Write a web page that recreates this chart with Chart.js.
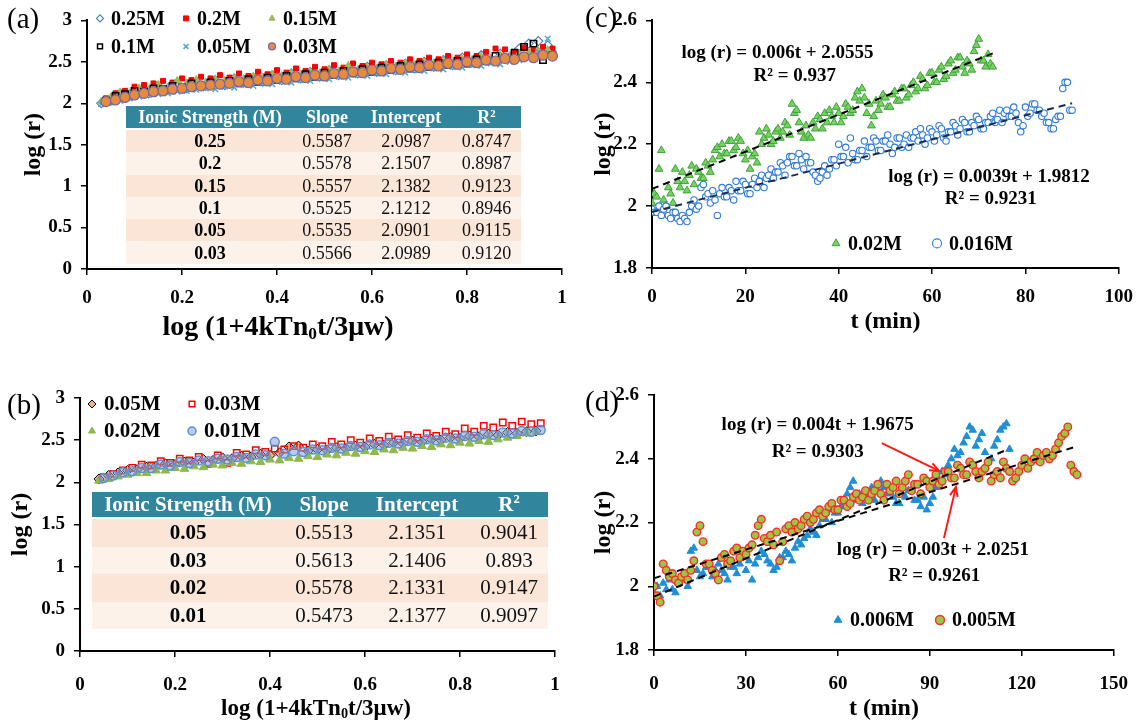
<!DOCTYPE html>
<html>
<head>
<meta charset="utf-8">
<script src="https://cdn.jsdelivr.net/npm/chart.js@4.4.1/dist/chart.umd.min.js"></script>
<style>
  body { margin: 0; background: #fff; width: 1145px; height: 723px; position: relative; overflow: hidden;
         font-family: "Liberation Serif", "Times New Roman", serif; }
  canvas { position: absolute; }
  .tag { position: absolute; font-size: 29px; line-height: 1; }
  .xt { position: absolute; font-weight: bold; white-space: nowrap; transform: translate(-50%, -50%); line-height: 1; }
  .xt sub { font-size: 0.62em; vertical-align: -0.25em; }
  table.fit { position: absolute; border-collapse: collapse; table-layout: fixed; color: #111; }
  table.fit th { background: #31859C; color: #fff; font-weight: bold; padding: 0; }
  table.fit td { padding: 0; text-align: center; }
  table.fit td:first-child { font-weight: bold; color: #000; }
  table.fit tr:nth-child(even) td { background: #FBE5D6; }
  table.fit tr:nth-child(odd) td { background: #FDF2EA; }
  #tabA { left: 126px; top: 106px; width: 395px; font-size: 18px; }
  #tabA th { height: 22px; line-height: 22px; }
  #tabA td { height: 22.3px; line-height: 22px; }
  #tabB { left: 92px; top: 492px; width: 456px; font-size: 21px; }
  #tabB th { height: 25px; line-height: 25px; }
  #tabB td { height: 27.5px; line-height: 27px; }
  table.fit tr:nth-child(2) td { border-top: 2px solid #fff; }
</style>
</head>
<body>
<canvas id="chartA" width="580" height="340" style="left:0;top:0"></canvas>
<canvas id="chartB" width="580" height="363" style="left:0;top:360px"></canvas>
<canvas id="chartC" width="565" height="340" style="left:580px;top:0"></canvas>
<canvas id="chartD" width="565" height="363" style="left:580px;top:360px"></canvas>

<div class="tag" style="left:7px;top:4px">(a)</div>
<div class="tag" style="left:7px;top:390px">(b)</div>
<div class="tag" style="left:585px;top:3px">(c)</div>
<div class="tag" style="left:585px;top:387px">(d)</div>

<div class="xt" style="left:278px;top:327px;font-size:28px">log (1+4kTn<sub>0</sub>t/3μw)</div>
<div class="xt" style="left:316px;top:708px;font-size:23px">log (1+4kTn<sub>0</sub>t/3μw)</div>

<table class="fit" id="tabA">
  <colgroup><col style="width:168px"><col style="width:66px"><col style="width:92px"><col style="width:69px"></colgroup>
  <tbody id="tabAbody"></tbody>
</table>
<table class="fit" id="tabB">
  <colgroup><col style="width:192px"><col style="width:80px"><col style="width:106px"><col style="width:78px"></colgroup>
  <tbody id="tabBbody"></tbody>
</table>

<script>
// ---------- panel (a): log(r) vs log(1+4kTn0t/3uw) ----------
const A_X1 = [0.03,0.05,0.07,0.09,0.11,0.13,0.15,0.17,0.19,0.21,0.23,0.25,0.27,0.29,0.31,0.33,0.35,0.37,0.39,0.41,
              0.43,0.45,0.47,0.49,0.51,0.53,0.55,0.57,0.59,0.61,0.63,0.65,0.67,0.69,0.71,0.73,0.75,0.77,0.79,0.81,
              0.83,0.85,0.87,0.89,0.91,0.93,0.95,0.97];
const A_X2 = [0.04,0.06,0.08,0.10,0.12,0.14,0.16,0.18,0.20,0.22,0.24,0.26,0.28,0.30,0.32,0.34,0.36,0.38,0.40,0.42,
              0.44,0.46,0.48,0.50,0.52,0.54,0.56,0.58,0.60,0.62,0.64,0.66,0.68,0.70,0.72,0.74,0.76,0.78,0.80,0.82,
              0.84,0.86,0.88,0.90,0.92,0.94,0.96,0.98];
const A_025 = [2.00,2.03,2.12,2.09,2.16,2.12,2.21,2.16,2.24,2.18,2.26,2.21,2.28,2.22,2.30,2.25,2.31,2.26,2.34,2.28,
               2.36,2.30,2.38,2.32,2.40,2.34,2.42,2.36,2.44,2.38,2.46,2.40,2.48,2.42,2.50,2.44,2.52,2.46,2.55,2.49,
               2.58,2.52,2.60,2.55,2.66,2.72,2.75,2.70];
const A_02 = [2.06,2.12,2.15,2.20,2.22,2.24,2.27,2.25,2.30,2.28,2.32,2.30,2.34,2.31,2.36,2.33,2.38,2.35,2.40,2.37,
              2.42,2.39,2.44,2.41,2.46,2.43,2.48,2.45,2.49,2.47,2.51,2.49,2.53,2.51,2.55,2.53,2.57,2.55,2.59,2.57,
              2.62,2.66,2.65,2.62,2.67,2.64,2.68,2.66];
const A_015 = [2.02,2.07,2.13,2.12,2.18,2.16,2.22,2.19,2.27,2.24,2.28,2.25,2.28,2.27,2.30,2.29,2.32,2.31,2.34,2.33,
               2.36,2.34,2.38,2.36,2.40,2.38,2.45,2.40,2.43,2.42,2.46,2.44,2.48,2.46,2.49,2.48,2.51,2.50,2.53,2.52,
               2.56,2.54,2.58,2.57,2.60,2.61,2.63,2.64];
const A_01 = [2.03,2.09,2.11,2.15,2.14,2.18,2.17,2.21,2.19,2.24,2.21,2.25,2.23,2.27,2.24,2.29,2.26,2.31,2.28,2.33,
              2.30,2.35,2.32,2.37,2.34,2.39,2.36,2.41,2.38,2.43,2.40,2.45,2.42,2.47,2.44,2.49,2.46,2.51,2.48,2.53,
              2.51,2.57,2.55,2.61,2.68,2.72,2.52,2.58];
const A_005 = [1.99,2.01,2.03,2.06,2.08,2.10,2.11,2.12,2.14,2.15,2.16,2.18,2.17,2.20,2.19,2.22,2.21,2.24,2.23,2.26,
               2.25,2.28,2.27,2.30,2.29,2.32,2.31,2.34,2.33,2.36,2.35,2.38,2.37,2.40,2.39,2.42,2.41,2.44,2.43,2.46,
               2.45,2.48,2.47,2.50,2.52,2.55,2.62,2.78];
const A_003 = [2.02,2.04,2.07,2.10,2.12,2.14,2.15,2.17,2.18,2.20,2.21,2.22,2.23,2.24,2.26,2.25,2.28,2.27,2.30,2.29,
               2.32,2.31,2.34,2.33,2.36,2.35,2.38,2.37,2.40,2.39,2.42,2.41,2.44,2.43,2.46,2.45,2.48,2.47,2.50,2.49,
               2.52,2.51,2.54,2.53,2.56,2.55,2.58,2.57];
const A_TABLE = [
  ['0.25', '0.5587', '2.0987', '0.8747'],
  ['0.2',  '0.5578', '2.1507', '0.8987'],
  ['0.15', '0.5557', '2.1382', '0.9123'],
  ['0.1',  '0.5525', '2.1212', '0.8946'],
  ['0.05', '0.5535', '2.0901', '0.9115'],
  ['0.03', '0.5566', '2.0989', '0.9120']
];

// ---------- panel (b) ----------
const B_X1 = [0.04,0.06,0.08,0.10,0.12,0.14,0.16,0.18,0.20,0.22,0.24,0.26,0.28,0.30,0.32,0.34,0.36,0.38,0.40,0.42,
              0.44,0.46,0.48,0.50,0.52,0.54,0.56,0.58,0.60,0.62,0.64,0.66,0.68,0.70,0.72,0.74,0.76,0.78,0.80,0.82,
              0.84,0.86,0.88,0.90,0.92,0.94,0.96];
const B_X2 = [0.05,0.07,0.09,0.11,0.13,0.15,0.17,0.19,0.21,0.23,0.25,0.27,0.29,0.31,0.33,0.35,0.37,0.39,0.41,0.43,
              0.45,0.47,0.49,0.51,0.53,0.55,0.57,0.59,0.61,0.63,0.65,0.67,0.69,0.71,0.73,0.75,0.77,0.79,0.81,0.83,
              0.85,0.87,0.89,0.91,0.93,0.95,0.97];
const B_005 = [2.04,2.08,2.11,2.14,2.15,2.18,2.19,2.22,2.21,2.24,2.23,2.27,2.26,2.29,2.28,2.31,2.30,2.33,2.32,2.35,
               2.42,2.43,2.37,2.39,2.38,2.41,2.40,2.43,2.42,2.45,2.44,2.47,2.46,2.49,2.48,2.51,2.50,2.53,2.52,2.55,
               2.54,2.57,2.56,2.59,2.58,2.60,2.61];
const B_003 = [2.06,2.10,2.14,2.17,2.21,2.20,2.25,2.23,2.28,2.26,2.30,2.22,2.32,2.23,2.35,2.33,2.38,2.36,2.40,2.39,
               2.43,2.41,2.45,2.43,2.48,2.45,2.50,2.47,2.52,2.49,2.54,2.51,2.56,2.53,2.58,2.55,2.60,2.57,2.64,2.60,
               2.67,2.65,2.71,2.67,2.72,2.69,2.70];
const B_002 = [2.02,2.04,2.07,2.09,2.11,2.11,2.14,2.14,2.17,2.16,2.19,2.18,2.21,2.20,2.23,2.22,2.25,2.24,2.27,2.26,
               2.29,2.28,2.31,2.30,2.33,2.32,2.35,2.34,2.37,2.36,2.39,2.38,2.41,2.40,2.43,2.42,2.45,2.44,2.47,2.46,
               2.49,2.48,2.51,2.53,2.55,2.58,2.60];
const B_001 = [2.05,2.08,2.12,2.13,2.17,2.17,2.21,2.20,2.24,2.23,2.26,2.25,2.28,2.27,2.30,2.29,2.33,2.32,2.48,2.34,
               2.37,2.36,2.39,2.38,2.41,2.40,2.43,2.42,2.45,2.44,2.47,2.46,2.49,2.48,2.51,2.50,2.53,2.52,2.55,2.54,
               2.57,2.56,2.59,2.58,2.61,2.60,2.62];
const B_TABLE = [
  ['0.05', '0.5513', '2.1351', '0.9041'],
  ['0.03', '0.5613', '2.1406', '0.893'],
  ['0.02', '0.5578', '2.1331', '0.9147'],
  ['0.01', '0.5473', '2.1377', '0.9097']
];

// ---------- panel (c): log(r) vs t, readings every half minute ----------
const C_T = [0,0.5,1,1.5,2,2.5,3,3.5,4,4.5,5,5.5,6,6.5,7,7.5,8,8.5,9,9.5,10,10.5,11,11.5,12,12.5,13,13.5,14,14.5,
             15,15.5,16,16.5,17,17.5,18,18.5,19,19.5,20,20.5,21,21.5,22,22.5,23,23.5,24,24.5,25,25.5,26,26.5,27,27.5,
             28,28.5,29,29.5,30,30.5,31,31.5,32,32.5,33,33.5,34,34.5,35,35.5,36,36.5,37,37.5,38,38.5,39,39.5,40,40.5,
             41,41.5,42,42.5,43,43.5,44,44.5,45,45.5,46,46.5,47,47.5,48,48.5,49,49.5,50,50.5,51,51.5,52,52.5,53,53.5,
             54,54.5,55,55.5,56,56.5,57,57.5,58,58.5,59,59.5,60,60.5,61,61.5,62,62.5,63,63.5,64,64.5,65,65.5,66,66.5,
             67,67.5,68,68.5,69,69.5,70,70.5,71,71.5,72,72.5,73,73.5,74,74.5,75,75.5,76,76.5,77,77.5,78,78.5,79,79.5,
             80,80.5,81,81.5,82,82.5,83,83.5,84,84.5,85,85.5,86,86.5,87,87.5,88,88.5,89,89.5,90];
const C_002 = [2.01,2.04,2.03,2.12,2.18,2.02,2.00,2.06,2.04,2.01,2.12,2.08,2.06,2.11,2.08,2.05,2.10,2.13,2.07,2.12,
               2.11,2.09,2.09,2.14,2.13,2.11,2.15,2.18,2.19,2.16,2.20,2.17,2.17,2.21,2.21,2.18,2.19,2.22,2.21,2.17,
               2.15,2.18,2.12,2.16,2.17,2.14,2.24,2.20,2.22,2.25,2.23,2.20,2.21,2.24,2.25,2.22,2.24,2.27,2.26,2.23,
               2.33,2.30,2.31,2.27,2.24,2.22,2.26,2.23,2.22,2.27,2.25,2.29,2.28,2.25,2.30,2.27,2.31,2.29,2.27,2.32,
               2.30,2.27,2.29,2.33,2.32,2.30,2.31,2.35,2.37,2.34,2.38,2.35,2.30,2.33,2.26,2.29,2.34,2.31,2.33,2.36,
               2.35,2.32,2.32,2.36,2.37,2.34,2.34,2.38,2.38,2.35,2.36,2.39,2.40,2.37,2.38,2.42,2.41,2.38,2.39,2.43,
               2.43,2.40,2.40,2.44,2.45,2.41,2.42,2.46,2.47,2.43,2.44,2.48,2.48,2.45,2.43,2.47,2.46,2.44,2.50,2.52,
               2.54,2.47,2.47,2.45,2.49,2.46,2.45];
const C_0016 = [1.99,1.98,1.98,2.00,1.97,1.99,2.00,1.97,1.96,1.98,1.98,1.96,1.95,1.97,1.96,1.95,1.98,2.00,2.02,1.99,
                2.00,2.06,2.07,2.03,2.04,2.01,2.05,2.02,1.97,2.04,2.06,2.03,2.03,2.06,2.05,2.02,2.08,2.05,2.05,2.08,
                2.07,2.04,2.04,2.07,2.09,2.06,2.08,2.10,2.06,2.09,2.10,2.12,2.09,2.11,2.11,2.14,2.13,2.10,2.14,2.16,
                2.16,2.13,2.13,2.17,2.15,2.12,2.16,2.14,2.14,2.11,2.10,2.08,2.09,2.11,2.13,2.10,2.12,2.15,2.15,2.13,
                2.20,2.16,2.16,2.19,2.14,2.22,2.17,2.15,2.15,2.18,2.18,2.21,2.16,2.19,2.19,2.22,2.21,2.18,2.18,2.21,
                2.21,2.23,2.20,2.17,2.19,2.22,2.22,2.19,2.20,2.23,2.19,2.22,2.22,2.24,2.21,2.25,2.23,2.20,2.22,2.25,
                2.24,2.21,2.23,2.26,2.25,2.22,2.21,2.24,2.24,2.27,2.26,2.23,2.25,2.28,2.27,2.24,2.24,2.27,2.26,2.29,
                2.28,2.25,2.25,2.27,2.27,2.29,2.30,2.27,2.28,2.31,2.27,2.30,2.31,2.29,2.29,2.32,2.30,2.27,2.24,2.26,
                2.32,2.29,2.30,2.33,2.33,2.31,2.31,2.29,2.30,2.27,2.27,2.25,2.25,2.28,2.29,2.29,2.38,2.40,2.40,2.31,
                2.31];
// fitted lines drawn in the figure: [t, log r] at both ends
const C_FIT1 = [[0, 2.0555], [73, 2.4935]];
const C_FIT2 = [[0, 1.9812], [90, 2.3322]];

// ---------- panel (d): readings every minute ----------
const D_T = [0,1,2,3,4,5,6,7,8,9,10,11,12,13,14,15,16,17,18,19,20,21,22,23,24,25,26,27,28,29,30,31,32,33,34,35,36,37,
             38,39,40,41,42,43,44,45,46,47,48,49,50,51,52,53,54,55,56,57,58,59,60,61,62,63,64,65,66,67,68,69,70,71,72,
             73,74,75,76,77,78,79,80,81,82,83,84,85,86,87,88,89,90,91,92,93,94,95,96,97,98,99,100,101,102,103,104,105,
             106,107,108,109,110,111,112,113,114,115,116,117,118,119,120,121,122,123,124,125,126,127,128,129,130,131,
             132,133,134,135,136,137,138];
const D_0006 = [1.98,2.00,1.97,2.01,1.99,2.02,1.99,1.98,2.01,2.03,2.02,2.00,2.11,2.12,2.05,2.03,2.04,2.06,2.06,2.03,
                2.05,2.07,2.05,2.04,2.02,2.06,2.06,2.04,2.07,2.09,2.05,2.08,2.02,2.07,2.09,2.11,2.10,2.08,2.07,2.05,
                2.06,2.09,2.09,2.11,2.10,2.08,2.12,2.14,2.13,2.15,2.16,2.18,2.17,2.16,2.19,2.21,2.21,2.24,2.20,2.23,
                2.23,2.25,2.26,2.29,2.31,2.33,2.27,2.29,2.26,2.28,2.29,2.31,2.27,2.30,2.33,2.31,2.29,2.30,2.28,2.26,
                2.26,2.29,2.28,2.30,2.30,2.27,2.27,2.25,2.28,2.24,2.26,2.28,2.31,2.33,2.36,2.35,2.38,2.40,2.43,2.41,
                2.42,2.45,2.47,2.50,2.49,2.44,2.46,2.48,2.42,2.39,2.40,2.44,2.46,2.49,2.50,2.51,2.43];
const D_0005 = [2.00,1.97,1.95,2.07,2.05,2.03,2.04,2.02,2.01,2.03,2.04,2.02,2.05,2.08,2.17,2.19,2.14,2.07,2.07,2.05,
                2.04,2.02,2.09,2.10,2.07,2.08,2.11,2.12,2.09,2.11,2.10,2.12,2.13,2.16,2.19,2.21,2.15,2.14,2.16,2.13,
                2.17,2.08,2.14,2.18,2.19,2.17,2.20,2.18,2.19,2.21,2.22,2.20,2.21,2.23,2.24,2.22,2.23,2.25,2.26,2.24,
                2.24,2.27,2.27,2.25,2.26,2.28,2.29,2.27,2.28,2.30,2.27,2.29,2.30,2.32,2.29,2.27,2.32,2.30,2.31,2.33,
                2.29,2.31,2.33,2.35,2.30,2.32,2.32,2.29,2.34,2.33,2.31,2.33,2.35,2.32,2.33,2.36,2.36,2.34,2.34,2.38,
                2.37,2.35,2.35,2.39,2.38,2.36,2.34,2.36,2.37,2.39,2.33,2.35,2.36,2.34,2.39,2.37,2.36,2.33,2.34,2.36,
                2.38,2.40,2.37,2.39,2.40,2.42,2.39,2.41,2.42,2.40,2.41,2.43,2.45,2.47,2.48,2.50,2.38,2.36,2.35];
const D_FIT1 = [[0, 1.9675], [115, 2.4275]];
const D_FIT2 = [[0, 2.0251], [137, 2.4361]];

const FONT = '"Liberation Serif", "Times New Roman", serif';
Chart.defaults.font.family = FONT;
Chart.defaults.color = '#000';

function pts(xs, ys) { return ys.map((y, i) => ({ x: xs[i], y: y })); }
function fitPts(arr) { return arr.map(p => ({ x: p[0], y: p[1] })); }

// legend drawn in a small grid inside the plot
const gridLegend = {
  id: 'gridLegend',
  afterDatasetsDraw(chart, args, o) {
    if (!o || !o.cols) return;
    const ctx = chart.ctx, area = chart.chartArea;
    ctx.save();
    ctx.font = 'bold ' + o.size + 'px ' + FONT;
    ctx.textBaseline = 'middle';
    let k = 0;
    chart.data.datasets.forEach(ds => {
      if (ds.noLegend) return;
      const col = k % o.cols, row = Math.floor(k / o.cols);
      const x = area.left + o.x + col * o.dx;
      const y = area.top + o.y + row * o.dy;
      ctx.fillStyle = ds.backgroundColor;
      ctx.strokeStyle = ds.borderColor;
      ctx.lineWidth = ds.borderWidth;
      Chart.helpers.drawPoint(ctx, { pointStyle: ds.pointStyle, radius: o.r, borderWidth: ds.borderWidth, rotation: 0 }, x, y);
      ctx.fillStyle = '#000';
      ctx.fillText(ds.label, x + o.gap, y + 1);
      k++;
    });
    ctx.restore();
  }
};

// fit equations and arrows, placed in data coordinates
const fitNotes = {
  id: 'fitNotes',
  afterDatasetsDraw(chart, args, o) {
    if (!o || !o.texts) return;
    const ctx = chart.ctx, sx = chart.scales.x, sy = chart.scales.y;
    ctx.save();
    ctx.font = 'bold ' + o.size + 'px ' + FONT;
    ctx.textAlign = 'center';
    ctx.textBaseline = 'middle';
    ctx.fillStyle = '#000';
    o.texts.forEach(n => ctx.fillText(n.text, sx.getPixelForValue(n.x), sy.getPixelForValue(n.y)));
    (o.arrows || []).forEach(a => {
      const x1 = sx.getPixelForValue(a.x1), y1 = sy.getPixelForValue(a.y1);
      const x2 = sx.getPixelForValue(a.x2), y2 = sy.getPixelForValue(a.y2);
      const ang = Math.atan2(y2 - y1, x2 - x1);
      ctx.strokeStyle = '#FF1A1A';
      ctx.lineWidth = 2;
      ctx.beginPath(); ctx.moveTo(x1, y1); ctx.lineTo(x2, y2); ctx.stroke();
      ctx.beginPath();
      ctx.moveTo(x2 - 10 * Math.cos(ang - 0.4), y2 - 10 * Math.sin(ang - 0.4));
      ctx.lineTo(x2, y2);
      ctx.lineTo(x2 - 10 * Math.cos(ang + 0.4), y2 - 10 * Math.sin(ang + 0.4));
      ctx.stroke();
    });
    ctx.restore();
  }
};
Chart.register(gridLegend, fitNotes);

const plainNum = v => String(Math.round(v * 100) / 100);

function scales(cfg) {
  const tickFont = { size: 19, weight: 'bold' };
  const titleFont = { size: 24, weight: 'bold', lineHeight: 1.2 };
  const gridOpt = { drawOnChartArea: false, drawTicks: true, tickLength: 6, color: '#000', lineWidth: 1.5 };
  return {
    x: {
      type: 'linear', min: cfg.xmin, max: cfg.xmax,
      ticks: { stepSize: cfg.xstep, font: tickFont, padding: cfg.xpad, maxRotation: 0, callback: plainNum },
      grid: gridOpt, border: { color: '#000', width: 2 },
      title: { display: !!cfg.xtitle, text: cfg.xtitle || '', font: titleFont, padding: { top: 0, bottom: cfg.xtpad } },
      afterFit: s => { s.height = cfg.xh; }
    },
    y: {
      type: 'linear', min: cfg.ymin, max: cfg.ymax,
      ticks: { stepSize: cfg.ystep, font: tickFont, padding: 9, callback: plainNum },
      grid: gridOpt, border: { color: '#000', width: 2 },
      title: { display: true, text: 'log (r)', font: titleFont, padding: { top: cfg.ytpad, bottom: 0 } },
      afterFit: s => { s.width = cfg.yw; }
    }
  };
}

function scatterSet(label, data, style, order) {
  return Object.assign({ label: label, data: data, order: order, showLine: false }, style);
}
function fitSet(data, color) {
  return { type: 'line', data: data, noLegend: true, order: -1, borderColor: color, borderWidth: 2,
           borderDash: [7, 5], pointRadius: 0, fill: false, showLine: true };
}

const baseOpts = { responsive: false, animation: false, events: [] };

// (a)
new Chart(document.getElementById('chartA'), {
  type: 'scatter',
  data: { datasets: [
    scatterSet('0.25M', pts(A_X1, A_025), { pointStyle: 'rectRot', pointRadius: 4.5, backgroundColor: 'rgba(255,255,255,0)', borderColor: '#4F81BD', borderWidth: 1.2 }, 5),
    scatterSet('0.2M', pts(A_X2, A_02), { pointStyle: 'rect', pointRadius: 3.5, backgroundColor: '#FF0000', borderColor: '#FF0000', borderWidth: 1 }, 4),
    scatterSet('0.15M', pts(A_X1, A_015), { pointStyle: 'triangle', pointRadius: 4.5, backgroundColor: '#9BBB59', borderColor: '#9BBB59', borderWidth: 1 }, 3),
    scatterSet('0.1M', pts(A_X2, A_01), { pointStyle: 'rect', pointRadius: 4.5, backgroundColor: 'rgba(255,255,255,0)', borderColor: '#000', borderWidth: 1.5 }, 2),
    scatterSet('0.05M', pts(A_X1, A_005), { pointStyle: 'crossRot', pointRadius: 4, backgroundColor: '#4BACC6', borderColor: '#4BACC6', borderWidth: 1.5 }, 1),
    scatterSet('0.03M', pts(A_X2, A_003), { pointStyle: 'circle', pointRadius: 5, backgroundColor: '#E38B3F', borderColor: '#7E64A0', borderWidth: 1.2 }, 0)
  ] },
  options: Object.assign({}, baseOpts, {
    layout: { padding: { top: 19, right: 18, left: 0, bottom: 0 } },
    scales: scales({ xmin: 0, xmax: 1, xstep: 0.2, xpad: 12, xh: 71, xtpad: 0,
                     ymin: 0, ymax: 3, ystep: 0.5, yw: 87, ytpad: 19 }),
    plugins: { legend: { display: false }, tooltip: { enabled: false },
               gridLegend: { cols: 3, x: 13, y: -2, dx: 86, dy: 28, r: 3.5, gap: 11, size: 20 } }
  })
});

// (b)
new Chart(document.getElementById('chartB'), {
  type: 'scatter',
  data: { datasets: [
    scatterSet('0.05M', pts(B_X1, B_005), { pointStyle: 'rectRot', pointRadius: 5, backgroundColor: '#F4B183', borderColor: '#000', borderWidth: 1 }, 3),
    scatterSet('0.03M', pts(B_X2, B_003), { pointStyle: 'rect', pointRadius: 4.5, backgroundColor: 'rgba(255,255,255,0)', borderColor: '#FF0000', borderWidth: 1.5 }, 2),
    scatterSet('0.02M', pts(B_X1, B_002), { pointStyle: 'triangle', pointRadius: 5, backgroundColor: '#8FB84E', borderColor: '#8FB84E', borderWidth: 1 }, 1),
    scatterSet('0.01M', pts(B_X2, B_001), { pointStyle: 'circle', pointRadius: 4.5, backgroundColor: 'rgba(120,165,225,0.55)', borderColor: '#5B8FD6', borderWidth: 1.5 }, 0)
  ] },
  options: Object.assign({}, baseOpts, {
    layout: { padding: { top: 38, right: 25, left: 0, bottom: 0 } },
    scales: scales({ xmin: 0, xmax: 1, xstep: 0.2, xpad: 17, xh: 72, xtpad: 0,
                     ymin: 0, ymax: 3, ystep: 0.5, yw: 80, ytpad: 6 }),
    plugins: { legend: { display: false }, tooltip: { enabled: false },
               gridLegend: { cols: 2, x: 12, y: 6, dx: 100, dy: 27, r: 4, gap: 12, size: 21 } }
  })
});

// (c)
new Chart(document.getElementById('chartC'), {
  type: 'scatter',
  data: { datasets: [
    scatterSet('0.02M', pts(C_T, C_002), { pointStyle: 'triangle', pointRadius: 4.5, backgroundColor: '#79D15F', borderColor: '#3DA33D', borderWidth: 1 }, 1),
    scatterSet('0.016M', pts(C_T, C_0016), { pointStyle: 'circle', pointRadius: 3.2, backgroundColor: '#fff', borderColor: '#2E7BD9', borderWidth: 1.1 }, 0),
    fitSet(fitPts(C_FIT1), '#000'),
    fitSet(fitPts(C_FIT2), '#1B2A52')
  ] },
  options: Object.assign({}, baseOpts, {
    layout: { padding: { top: 13, right: 25, left: 0, bottom: 0 } },
    scales: scales({ xmin: 0, xmax: 100, xstep: 20, xpad: 12, xh: 72, xtitle: 't (min)', xtpad: 4,
                     ymin: 1.8, ymax: 2.6, ystep: 0.2, yw: 72, ytpad: 9 }),
    plugins: { legend: { display: false }, tooltip: { enabled: false },
               gridLegend: { cols: 2, x: 184, y: 223, dx: 101, dy: 0, r: 4.5, gap: 12, size: 20 },
               fitNotes: { size: 19, texts: [
                 { text: 'log (r) = 0.006t + 2.0555', x: 26.9, y: 2.493 },
                 { text: 'R\u00B2 = 0.937', x: 30.6, y: 2.421 },
                 { text: 'log (r) = 0.0039t + 1.9812', x: 72.2, y: 2.095 },
                 { text: 'R\u00B2 = 0.9231', x: 72.6, y: 2.023 }
               ] } }
  })
});

// (d)
new Chart(document.getElementById('chartD'), {
  type: 'scatter',
  data: { datasets: [
    scatterSet('0.006M', pts(D_T, D_0006), { pointStyle: 'triangle', pointRadius: 4.3, backgroundColor: '#1E8FD6', borderColor: '#1E8FD6', borderWidth: 1 }, 1),
    scatterSet('0.005M', pts(D_T, D_0005), { pointStyle: 'circle', pointRadius: 3.8, backgroundColor: '#9CC544', borderColor: '#FF2A2A', borderWidth: 1.4 }, 0),
    fitSet(fitPts(D_FIT1), '#000'),
    fitSet(fitPts(D_FIT2), '#000')
  ] },
  options: Object.assign({}, baseOpts, {
    layout: { padding: { top: 35, right: 25, left: 0, bottom: 0 } },
    scales: scales({ xmin: 0, xmax: 150, xstep: 30, xpad: 17, xh: 73, xtitle: 't (min)', xtpad: 0,
                     ymin: 1.8, ymax: 2.6, ystep: 0.2, yw: 74, ytpad: 9 }),
    plugins: { legend: { display: false }, tooltip: { enabled: false },
               gridLegend: { cols: 2, x: 184, y: 225, dx: 102, dy: 0, r: 4.5, gap: 12, size: 20 },
               fitNotes: { size: 19, texts: [
                 { text: 'log (r) = 0.004t + 1.9675', x: 53.4, y: 2.506 },
                 { text: 'R\u00B2 = 0.9303', x: 53.4, y: 2.421 },
                 { text: 'log (r) = 0.003t + 2.0251', x: 91, y: 2.114 },
                 { text: 'R\u00B2 = 0.9261', x: 91.4, y: 2.032 }
               ], arrows: [
                 { x1: 74.3, y1: 2.449, x2: 93.0, y2: 2.362 },
                 { x1: 94.6, y1: 2.151, x2: 98.5, y2: 2.311 }
               ] } }
  })
});

// fit tables
function fillTable(id, rows) {
  const body = document.getElementById(id);
  let html = '<tr><th>Ionic Strength (M)</th><th>Slope</th><th>Intercept</th><th>R<sup style="font-size:0.6em;vertical-align:0.6em;line-height:0">2</sup></th></tr>';
  rows.forEach(r => { html += '<tr><td>' + r.join('</td><td>') + '</td></tr>'; });
  body.innerHTML = html;
}
fillTable('tabAbody', A_TABLE);
fillTable('tabBbody', B_TABLE);
</script>
</body>
</html>
